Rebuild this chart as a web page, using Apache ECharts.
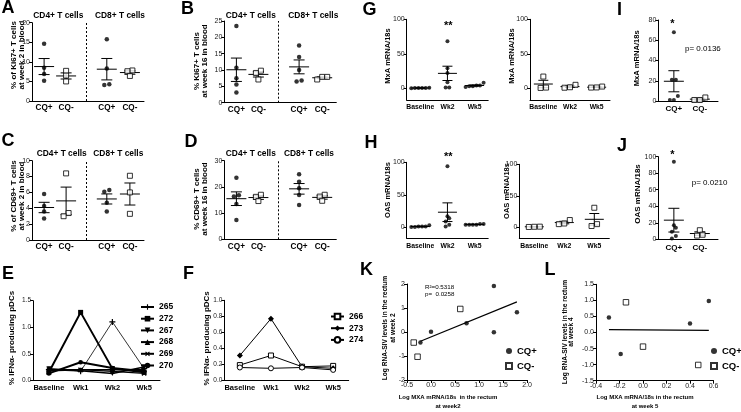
<!DOCTYPE html>
<html>
<head>
<meta charset="utf-8">
<script src="https://cdn.jsdelivr.net/npm/echarts@6.0.0/dist/echarts.min.js"></script>
<style>
html,body{margin:0;padding:0;background:#fff;}
#chart{width:741px;height:412px;}
</style>
</head>
<body>
<div id="chart"></div>
<script>
// ---------------- DATA ----------------
const dotGroupLabels = ['CQ+', 'CQ-', 'CQ+', 'CQ-'];
// A: % Ki67+ T cells week 2 blood
const aCD4Pos = [14.6, 8.5, 6.9, 5.2];
const aCD4Neg = [7.7, 6.5, 5.0];
const aCD8Pos = [15.8, 8.3, 4.1, 4.3];
const aCD8Neg = [7.8, 7.6, 6.4];
// B: % Ki67+ T cells week 16 blood
const bCD4Pos = [23.5, 10.7, 7.5, 5.6, 3.1];
const bCD4Neg = [9.8, 9.1, 7.1];
const bCD8Pos = [17.5, 14.0, 10.0, 6.8, 6.5];
const bCD8Neg = [7.9, 7.1, 7.9];
// C: % CD69+ T cells week 2 blood
const cCD4Pos = [5.8, 4.3, 3.6, 2.7];
const cCD4Neg = [8.4, 3.4, 3.0];
const cCD8Pos = [6.1, 6.3, 4.7, 3.6];
const cCD8Neg = [8.1, 6.0, 3.3];
// D: % CD69+ T cells week 16 blood
const dCD4Pos = [23.5, 16.8, 16.3, 13.5, 7.4];
const dCD4Neg = [17.0, 16.2, 14.6];
const dCD8Pos = [24.8, 22.0, 19.5, 16.9, 13.1];
const dCD8Neg = [17.0, 16.3, 14.7];

// E / F: % IFNa-producing pDCs
const timeLabelsEF = ['Baseline', 'Wk1', 'Wk2', 'Wk5'];
const eNames = ['265', '272', '267', '268', '269', '270'];
const e265 = [0.20, 0.17, 1.10, 0.22];
const e272 = [0.15, 1.28, 0.22, 0.15];
const e267 = [0.22, 0.18, 0.13, 0.25];
const e268 = [0.18, 0.20, 0.20, 0.20];
const e269 = [0.20, 0.20, 0.17, 0.13];
const e270 = [0.13, 0.34, 0.23, 0.17];
const fNames = ['266', '273', '274'];
const f266 = [0.19, 0.31, 0.17, 0.18];
const f273 = [0.31, 0.77, 0.17, 0.15];
const f274 = [0.16, 0.15, 0.16, 0.13];

// G / H: MxA and OAS mRNA/18s
const timeLabelsGH = ['Baseline', 'Wk2', 'Wk5'];
const mrnaTicks = [0, 50, 100];
const gPosBaseline = [0.5, 0.3, 0.2, 0.4, 0.6, 0.3];
const gPosWk2 = [68, 29, 22, 8.7, 1, 1];
const gPosWk5 = [8, 4, 3, 3, 2, 4];
const gNegBaseline = [17, 1, 0.5];
const gNegWk2 = [5, 1.5, 0.8];
const gNegWk5 = [2.5, 1, 1.2];
const hPosBaseline = [1, 0.5, 3, 1, 0.5, 1];
const hPosWk2 = [94, 17, 14, 9, 4, 1];
const hPosWk5 = [5, 4, 4, 5, 4, 4];
const hNegBaseline = [0.8, 0.5, 1];
const hNegWk2 = [11.5, 6, 5];
const hNegWk5 = [31, 5, 2];

// I / J
const cqLabels = ['CQ+', 'CQ-'];
const iPos = [68, 21, 21, 5, 1, 1];
const iNeg = [3.5, 1, 1];
const jPos = [94, 17, 14, 9, 4, 1];
const jNeg = [11, 5.5, 4.5];

// K / L: log MXA vs log RNA-SIV
const kPosX = [-0.22, 0.00, 0.74, 1.31, 1.31, 1.79];
const kPosY = [-0.44, 0.01, 0.36, 1.92, -0.01, 0.82];
const kNegX = [-0.36, -0.28, 0.61];
const kNegY = [-0.44, -1.03, 0.96];
const lPosX = [-0.29, -0.19, 0.40, 0.56];
const lPosY = [0.47, -0.67, 0.28, 0.98];
const lNegX = [-0.145, 0.00, 0.47];
const lNegY = [0.94, -0.44, -1.01];

// ---------------- HELPERS ----------------
const FONT = '"Liberation Sans", Arial, Helvetica, sans-serif';
const grids = [], xAxes = [], yAxes = [], series = [], graphics = [];
const AXLINE = { show: true, onZero: false, lineStyle: { color: '#000', width: 1 } };
const TICK = { show: true, length: 3, lineStyle: { color: '#000', width: 1 } };
function tickLabel(size, extra) {
  return Object.assign({ fontSize: size, color: '#1a1a1a', margin: 2, fontFamily: FONT }, extra || {});
}
function addGrid(rect, xa, ya) {
  const i = grids.length;
  grids.push(Object.assign({ containLabel: false }, rect));
  xAxes.push(Object.assign({ gridIndex: i, splitLine: { show: false }, axisLine: AXLINE }, xa));
  yAxes.push(Object.assign({ gridIndex: i, splitLine: { show: false }, axisLine: AXLINE }, ya));
  return i;
}
function meanSem(v) {
  const n = v.length;
  const m = v.reduce((a, b) => a + b, 0) / n;
  const sd = Math.sqrt(v.reduce((a, b) => a + (b - m) * (b - m), 0) / (n - 1));
  return [m, sd / Math.sqrt(n)];
}
// spread points with near-equal values side by side (like a column scatter plot)
function jitter(values, center, thr, dx) {
  const idx = values.map((v, i) => i).sort((a, b) => values[a] - values[b]);
  const out = new Array(values.length);
  let cl = [];
  const flush = () => {
    cl.forEach((k, j) => { out[k] = [center + (j - (cl.length - 1) / 2) * dx, values[k]]; });
    cl = [];
  };
  idx.forEach(k => {
    if (cl.length && values[k] - values[cl[0]] > thr) flush();
    cl.push(k);
  });
  flush();
  return out;
}
function dotSeries(gi, pts, filled, size) {
  return {
    type: 'scatter', xAxisIndex: gi, yAxisIndex: gi, data: pts, silent: true, z: 4,
    symbol: filled ? 'circle' : 'rect', symbolSize: size,
    itemStyle: filled ? { color: '#000' } : { color: '#fff', borderColor: '#000', borderWidth: 1 }
  };
}
function errSeries(gi, items, meanW, capW) {
  return {
    type: 'custom', xAxisIndex: gi, yAxisIndex: gi, data: items, z: 3, silent: true,
    encode: { x: 0, y: 1 },
    renderItem(params, api) {
      const x = api.value(0), m = api.value(1), s = api.value(2);
      const pm = api.coord([x, m]), pt = api.coord([x, m + s]), pb = api.coord([x, m - s]);
      const st = { stroke: '#000', lineWidth: 1 };
      return {
        type: 'group', children: [
          { type: 'line', shape: { x1: pm[0] - meanW / 2, y1: pm[1], x2: pm[0] + meanW / 2, y2: pm[1] }, style: st },
          { type: 'line', shape: { x1: pt[0], y1: pt[1], x2: pb[0], y2: pb[1] }, style: st },
          { type: 'line', shape: { x1: pt[0] - capW / 2, y1: pt[1], x2: pt[0] + capW / 2, y2: pt[1] }, style: st },
          { type: 'line', shape: { x1: pb[0] - capW / 2, y1: pb[1], x2: pb[0] + capW / 2, y2: pb[1] }, style: st }
        ]
      };
    }
  };
}
function txt(x, y, text, size, o) {
  o = o || {};
  graphics.push({
    type: 'text', x, y, rotation: o.rot || 0, silent: true,
    style: {
      text, fontSize: size, fontWeight: o.weight || 'bold', fontFamily: FONT, fill: '#000',
      align: o.align || 'center', verticalAlign: 'middle', lineHeight: o.lh || Math.round(size * 1.1)
    }
  });
}
const ROT = Math.PI / 2;

// ---------------- PANELS A-D ----------------
const AD_POS = [1, 2, 3.85, 4.9];
const AD_MIN = 0.45, AD_UNIT = 22;
function panelAD(rect, yMin, yMax, yInt, groups) {
  const xMax = AD_MIN + rect.width / AD_UNIT;
  const gi = addGrid(rect,
    {
      type: 'value', min: AD_MIN, max: xMax, axisTick: { show: false },
      axisLabel: tickLabel(8.2, {
        customValues: AD_POS, fontWeight: 'bold', color: '#000', margin: 3,
        formatter: v => { const k = AD_POS.findIndex(p => Math.abs(p - v) < 1e-6); return k < 0 ? '' : dotGroupLabels[k]; }
      })
    },
    { type: 'value', min: yMin, max: yMax, interval: yInt, axisTick: TICK, axisLabel: tickLabel(7) });
  const pxY = rect.height / (yMax - yMin);
  groups.forEach((vals, k) => {
    const filled = k % 2 === 0;
    const s = dotSeries(gi, jitter(vals, AD_POS[k], 3.5 / pxY, 5 / AD_UNIT), filled, filled ? 4.5 : 5);
    if (k === 0) {
      s.markLine = {
        silent: true, symbol: 'none', label: { show: false }, animation: false,
        lineStyle: { type: [2, 2], color: '#000', width: 1 },
        data: [{ xAxis: (AD_POS[1] + AD_POS[2]) / 2 }]
      };
    }
    series.push(s);
  });
  series.push(errSeries(gi, groups.map((v, k) => [AD_POS[k]].concat(meanSem(v))), 20, 11));
}
panelAD({ left: 32, top: 22.7, width: 112, height: 78.3 }, 0, 20, 5, [aCD4Pos, aCD4Neg, aCD8Pos, aCD8Neg]);
panelAD({ left: 224.3, top: 21, width: 112, height: 81.7 }, 0, 25, 5, [bCD4Pos, bCD4Neg, bCD8Pos, bCD8Neg]);
panelAD({ left: 32, top: 160.7, width: 112, height: 79.3 }, 0, 10, 2, [cCD4Pos, cCD4Neg, cCD8Pos, cCD8Neg]);
panelAD({ left: 224.3, top: 160.7, width: 112, height: 78.6 }, 0, 30, 10, [dCD4Pos, dCD4Neg, dCD8Pos, dCD8Neg]);

// ---------------- PANELS E-F ----------------
const PLUS = 'path://M4,0H6V4H10V6H6V10H4V6H0V4H4Z';
const lineStyles = {
  '265': { symbol: PLUS, size: 6, width: 0.8 },
  '272': { symbol: 'rect', size: 5, width: 2 },
  '267': { symbol: 'triangle', size: 5, width: 1.5, rotate: 180 },
  '268': { symbol: 'triangle', size: 5, width: 1.5 },
  '269': { symbol: PLUS, size: 6, width: 1.2, rotate: 45 },
  '270': { symbol: 'circle', size: 4.5, width: 2 },
  '266': { symbol: 'rect', size: 5, width: 1, hollow: true },
  '273': { symbol: 'diamond', size: 6, width: 1 },
  '274': { symbol: 'circle', size: 5, width: 1, hollow: true }
};
function panelLine(rect, yMax, yInt, names, valueSets) {
  const gi = addGrid(rect,
    {
      type: 'category', data: timeLabelsEF, boundaryGap: true, axisTick: { show: false },
      axisLabel: tickLabel(7.5, { fontWeight: 'bold', color: '#000', margin: 4, interval: 0 })
    },
    {
      type: 'value', min: 0, max: yMax, interval: yInt, axisTick: TICK,
      axisLabel: tickLabel(6.5, { formatter: v => v.toFixed(1) })
    });
  names.forEach((nm, k) => {
    const st = lineStyles[nm];
    series.push({
      type: 'line', name: nm, xAxisIndex: gi, yAxisIndex: gi, data: valueSets[k], silent: true, z: 3,
      symbol: st.symbol, symbolSize: st.size, symbolRotate: st.rotate || 0, showAllSymbol: true,
      lineStyle: { color: '#000', width: st.width },
      itemStyle: { color: st.hollow ? '#fff' : '#000', borderColor: '#000', borderWidth: st.hollow ? 1 : 0 }
    });
  });
}
panelLine({ left: 33, top: 300.7, width: 127, height: 79.6 }, 1.5, 0.5, eNames, [e265, e272, e267, e268, e269, e270]);
panelLine({ left: 224.3, top: 300.3, width: 124.4, height: 80 }, 1.0, 0.2, fNames, [f266, f273, f274]);

// ---------------- PANELS G-H ----------------
function panelGH(rect, yMin, groups, filled) {
  const xMin = -0.5, xMax = 2.5;
  const gi = addGrid(rect,
    {
      type: 'value', min: xMin, max: xMax, axisTick: { show: false },
      axisLabel: tickLabel(6.8, {
        customValues: [0, 1, 2], fontWeight: 'bold', color: '#000', margin: 4,
        formatter: v => timeLabelsGH[Math.round(v)] || ''
      })
    },
    {
      type: 'value', min: yMin, max: 100,
      axisTick: Object.assign({}, TICK, { customValues: mrnaTicks }),
      axisLabel: tickLabel(7, { customValues: mrnaTicks })
    });
  const pxX = rect.width / (xMax - xMin), pxY = rect.height / (100 - yMin);
  groups.forEach((vals, k) => {
    series.push(dotSeries(gi, jitter(vals, k, 4.5 / pxY, (filled ? 3.6 : 5.5) / pxX), filled, filled ? 4 : 5));
  });
  series.push(errSeries(gi, groups.map((v, k) => [k].concat(meanSem(v))), 19, 10));
}
panelGH({ left: 406.7, top: 19.3, width: 81.5, height: 80.7 }, -17, [gPosBaseline, gPosWk2, gPosWk5], true);
panelGH({ left: 530, top: 19.3, width: 80, height: 80.7 }, -17, [gNegBaseline, gNegWk2, gNegWk5], false);
panelGH({ left: 406.7, top: 162.3, width: 81.5, height: 76 }, -17, [hPosBaseline, hPosWk2, hPosWk5], true);
panelGH({ left: 519.3, top: 164.3, width: 90, height: 74 }, -17.5, [hNegBaseline, hNegWk2, hNegWk5], false);

// ---------------- PANELS I-J ----------------
function panelIJ(rect, yMax, yInt, groups) {
  const xMin = 0.4, xMax = 2.7;
  const gi = addGrid(rect,
    {
      type: 'value', min: xMin, max: xMax, axisTick: { show: false },
      axisLabel: tickLabel(8, {
        customValues: [1, 2], fontWeight: 'bold', color: '#000', margin: 4,
        formatter: v => cqLabels[Math.round(v) - 1] || ''
      })
    },
    { type: 'value', min: 0, max: yMax, interval: yInt, axisTick: TICK, axisLabel: tickLabel(7) });
  const pxX = rect.width / (xMax - xMin), pxY = rect.height / yMax;
  groups.forEach((vals, k) => {
    const filled = k === 0;
    series.push(dotSeries(gi, jitter(vals, k + 1, 4.5 / pxY, (filled ? 4 : 5.5) / pxX), filled, filled ? 4 : 5));
  });
  series.push(errSeries(gi, groups.map((v, k) => [k + 1].concat(meanSem(v))), 20, 11));
}
panelIJ({ left: 658.3, top: 20, width: 59.7, height: 81 }, 80, 20, [iPos, iNeg]);
panelIJ({ left: 658.3, top: 156.7, width: 59.7, height: 82.6 }, 100, 20, [jPos, jNeg]);

// ---------------- PANELS K-L ----------------
function fmt1(v) { return (Math.abs(v) < 1e-9 ? 0 : v).toFixed(1); }
function panelScatter(rect, xr, yr, yFmt, posX, posY, negX, negY) {
  const gi = addGrid(rect,
    { type: 'value', min: xr[0], max: xr[1], interval: xr[2], axisTick: TICK, axisLabel: tickLabel(7, { formatter: fmt1 }) },
    { type: 'value', min: yr[0], max: yr[1], interval: yr[2], axisTick: TICK, axisLabel: tickLabel(7, { formatter: yFmt }) });
  series.push({
    type: 'scatter', name: 'CQ+', xAxisIndex: gi, yAxisIndex: gi, silent: true, z: 4,
    data: posX.map((x, i) => [x, posY[i]]), symbol: 'circle', symbolSize: 4.5, itemStyle: { color: '#000' }
  });
  series.push({
    type: 'scatter', name: 'CQ-', xAxisIndex: gi, yAxisIndex: gi, silent: true, z: 4,
    data: negX.map((x, i) => [x, negY[i]]), symbol: 'rect', symbolSize: 5.5,
    itemStyle: { color: '#fff', borderColor: '#000', borderWidth: 1 }
  });
  // least-squares fit over all animals
  const xs = posX.concat(negX), ys = posY.concat(negY);
  const mx = xs.reduce((a, b) => a + b, 0) / xs.length, my = ys.reduce((a, b) => a + b, 0) / ys.length;
  let sxy = 0, sxx = 0;
  xs.forEach((x, i) => { sxy += (x - mx) * (ys[i] - my); sxx += (x - mx) * (x - mx); });
  const slope = sxy / sxx, icpt = my - slope * mx;
  const x0 = Math.min(...posX), x1 = Math.max(...posX);
  series.push({
    type: 'line', xAxisIndex: gi, yAxisIndex: gi, silent: true, z: 2, symbol: 'none',
    data: [[x0, icpt + slope * x0], [x1, icpt + slope * x1]], lineStyle: { color: '#000', width: 1.2 }
  });
}
panelScatter({ left: 407, top: 284, width: 120, height: 96 }, [-0.5, 2.0, 0.5], [-2, 2, 1], v => String(v), kPosX, kPosY, kNegX, kNegY);
panelScatter({ left: 596, top: 284.3, width: 117.5, height: 96.4 }, [-0.4, 0.6, 0.2], [-1.5, 1.5, 0.5], fmt1, lPosX, lPosY, lNegX, lNegY);

// ---------------- TEXT ----------------
// panel letters
[['A', 1.5, 8.5], ['B', 181, 9], ['C', 1.5, 141], ['D', 184.5, 142.5], ['E', 2, 274], ['F', 183, 274],
 ['G', 362.5, 10.5], ['H', 364.5, 143.5], ['I', 617, 10], ['J', 617, 146], ['K', 360, 270], ['L', 544.5, 270]]
  .forEach(([t, x, y]) => txt(x, y, t, 18, { align: 'left' }));
// subset titles
[[58.3, 16], [250.8, 16], [61.7, 154], [250.8, 154]].forEach(([x, y]) => txt(x, y, 'CD4+ T cells', 8.4));
[[120, 16], [313.3, 16], [118.3, 154], [309, 154]].forEach(([x, y]) => txt(x, y, 'CD8+ T cells', 8.4));
// y axis titles
txt(17.5, 55, '% of Ki67+ T cells\nat week 2 in blood', 8, { rot: ROT, lh: 8.4 });
txt(201, 61, '% Ki67+ T cells\nat week 16 in blood', 8, { rot: ROT, lh: 8.4 });
txt(17.5, 196, '% of CD69+ T cells\nat week 2 in blood', 8, { rot: ROT, lh: 8.4 });
txt(201, 199, '% CD69+ T cells\nat week 16 in blood', 8, { rot: ROT, lh: 8.4 });
txt(11.7, 338, '% IFNα- producing pDCs', 8, { rot: ROT });
txt(206.7, 338.3, '% IFNα- producing pDCs', 8, { rot: ROT });
txt(388.3, 56, 'MxA mRNA/18s', 7.5, { rot: ROT });
txt(511.7, 56, 'MxA mRNA/18s', 7.5, { rot: ROT });
txt(388.3, 190, 'OAS mRNA/18s', 7.5, { rot: ROT });
txt(507.3, 191, 'OAS mRNA/18s', 7.5, { rot: ROT });
txt(637.3, 58.3, 'MxA mRNA/18s', 7.6, { rot: ROT });
txt(637.3, 194, 'OAS mRNA/18s', 8, { rot: ROT });
txt(389, 328, 'Log RNA-SIV levels in the rectum\nat week 2', 6.6, { rot: ROT, lh: 8.3 });
txt(568.3, 332, 'Log RNA-SIV levels in the rectum\nat week 4', 6.6, { rot: ROT, lh: 6.7 });
txt(448, 402, 'Log MXA mRNA/18s  in the rectum\nat week2', 6, { lh: 9.4 });
txt(645, 402, 'Log MXA mRNA/18s in the rectum\nat week 5', 6, { lh: 9.6 });
// significance marks and stats
txt(448.3, 26, '**', 11);
txt(448.3, 157, '**', 11);
txt(672.3, 24, '*', 11);
txt(672.3, 154.6, '*', 11);
txt(685, 49, 'p= 0.0136', 8, { align: 'left', weight: 'normal' });
txt(691.7, 182.3, 'p= 0.0210', 8, { align: 'left', weight: 'normal' });
txt(425, 287.7, 'R²=0.5318', 6.2, { align: 'left', weight: 'normal' });
txt(425, 294.3, 'p=  0.0258', 6.2, { align: 'left', weight: 'normal' });

// ---------------- LEGENDS ----------------
const legendText = size => ({ fontSize: size, fontWeight: 'bold', color: '#000', fontFamily: FONT });
const legends = [
  { data: eNames, left: 140, top: 302.5, orient: 'vertical', itemWidth: 13, itemHeight: 7, itemGap: 2.7, padding: 0, selectedMode: false, textStyle: legendText(8.5) },
  { data: fNames, left: 330, top: 312, orient: 'vertical', itemWidth: 13, itemHeight: 7, itemGap: 2.7, padding: 0, selectedMode: false, textStyle: legendText(8.5) },
  { data: ['CQ+', 'CQ-'], left: 505, top: 346, orient: 'vertical', itemWidth: 6, itemHeight: 6, itemGap: 5, padding: 0, selectedMode: false, textStyle: legendText(9.5) },
  { data: ['CQ+', 'CQ-'], left: 710, top: 346, orient: 'vertical', itemWidth: 6, itemHeight: 6, itemGap: 5, padding: 0, selectedMode: false, textStyle: legendText(9.5) }
];

const chart = echarts.init(document.getElementById('chart'), null, { renderer: 'canvas' });
chart.setOption({
  animation: false,
  backgroundColor: '#fff',
  textStyle: { fontFamily: FONT },
  grid: grids,
  xAxis: xAxes,
  yAxis: yAxes,
  legend: legends,
  series: series,
  graphic: graphics
});
</script>
</body>
</html>
